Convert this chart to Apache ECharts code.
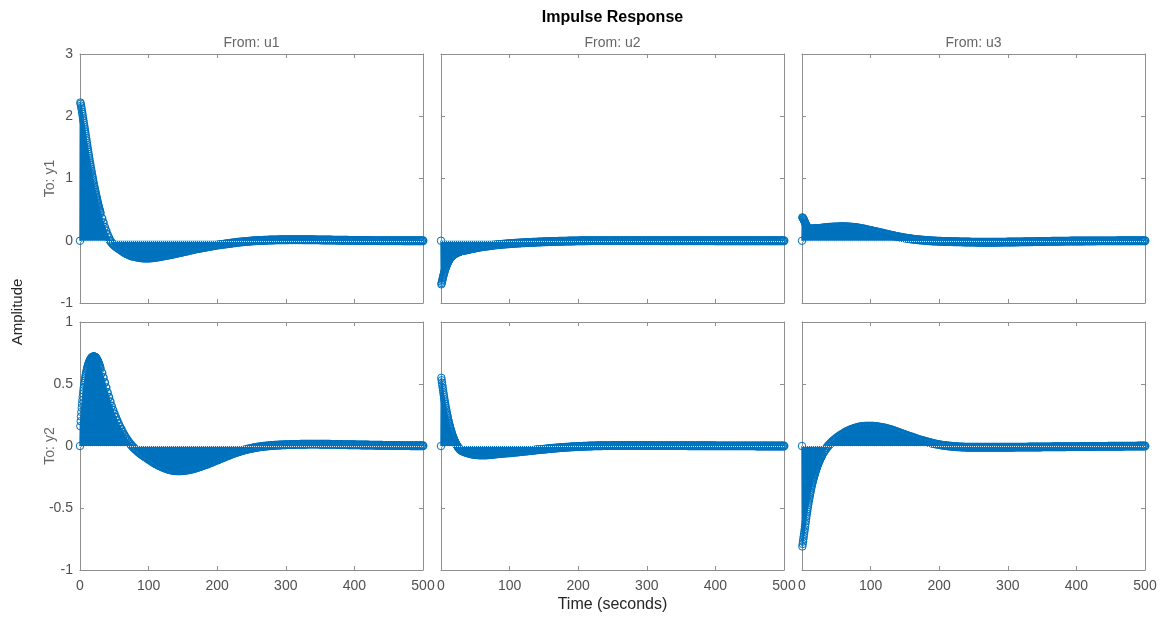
<!DOCTYPE html>
<html><head><meta charset="utf-8">
<style>html,body{margin:0;padding:0;background:#fff}#chart{width:1165px;height:617px}</style>
<script src="https://cdn.jsdelivr.net/npm/echarts@6/dist/echarts.min.js"></script>
</head><body><div id="chart"></div>
<script>
// Sampling grid: 0.5 s steps for 0..30 s (61 samples), then 2 s steps for 32..500 s (235 samples)
const FINE_STEP = 0.5, FINE_END = 30, COARSE_STEP = 2, T_END = 500;
const xTicks = [0, 100, 200, 300, 400, 500];
const rowLabels = ['To: y1', 'To: y2'];
const colLabels = ['From: u1', 'From: u2', 'From: u3'];

// To: y1, From: u1
const y1u1 = [
 0, 2.22, 2.20, 2.17, 2.14, 2.11, 2.07, 2.04, 2.00, 1.965,
 1.93, 1.895, 1.86, 1.825, 1.79, 1.755, 1.72, 1.68, 1.645, 1.61,
 1.57, 1.535, 1.50, 1.465, 1.43, 1.395, 1.36, 1.325, 1.29, 1.257,
 1.225, 1.192, 1.16, 1.13, 1.10, 1.07, 1.04, 1.01, 0.98, 0.95,
 0.92, 0.892, 0.865, 0.837, 0.81, 0.785, 0.76, 0.735, 0.71, 0.685,
 0.66, 0.635, 0.61, 0.587, 0.565, 0.542, 0.52, 0.5, 0.48, 0.46,
 0.44,
 0.36, 0.29, 0.22, 0.16,
 0.10, 0.05, 0.00, -0.03, -0.055, -0.075, -0.095, -0.11, -0.125, -0.14,
 -0.155, -0.17, -0.185, -0.20, -0.21, -0.22, -0.23, -0.24, -0.245, -0.25,
 -0.255, -0.26, -0.265, -0.268, -0.272, -0.275, -0.277, -0.278, -0.279, -0.279,
 -0.278, -0.277, -0.275, -0.273, -0.27, -0.267, -0.264, -0.26, -0.256, -0.252,
 -0.248, -0.244, -0.24, -0.236, -0.232, -0.228, -0.224, -0.22, -0.215, -0.21,
 -0.205, -0.2, -0.195, -0.19, -0.185, -0.18, -0.175, -0.17, -0.165, -0.16,
 -0.155, -0.15, -0.145, -0.14, -0.135, -0.13, -0.126, -0.122, -0.118, -0.114,
 -0.11, -0.106, -0.102, -0.098, -0.094, -0.09, -0.086, -0.082, -0.078, -0.074,
 -0.07, -0.067, -0.064, -0.061, -0.058, -0.055, -0.052, -0.049, -0.046, -0.043,
 -0.04, -0.037, -0.034, -0.031, -0.028, -0.025, -0.022, -0.02, -0.018, -0.016,
 -0.014, -0.012, -0.01, -0.008, -0.006, -0.004, -0.002, 0, 0.001, 0.002,
 0.003, 0.004, 0.005, 0.006, 0.007, 0.008, 0.009, 0.01, 0.011, 0.012,
 0.012, 0.013, 0.013, 0.014, 0.014, 0.015, 0.015, 0.015, 0.016, 0.016,
 0.016, 0.016, 0.017, 0.017, 0.017, 0.017, 0.017, 0.017, 0.017, 0.017,
 0.017, 0.017, 0.017, 0.016, 0.016, 0.016, 0.016, 0.016, 0.015, 0.015,
 0.015, 0.015, 0.014, 0.014, 0.014, 0.013, 0.013, 0.013, 0.012, 0.012,
 0.012, 0.011, 0.011, 0.011, 0.010, 0.010, 0.010, 0.009, 0.009, 0.009,
 0.008, 0.008, 0.008, 0.007, 0.007, 0.007, 0.006, 0.006, 0.006, 0.006,
 0.005, 0.005, 0.005, 0.005, 0.004, 0.004, 0.004, 0.004, 0.003, 0.003,
 0.003, 0.003, 0.003, 0.002, 0.002, 0.002, 0.002, 0.002, 0.002, 0.001,
 0.001, 0.001, 0.001, 0.001, 0.001, 0.001, 0.001, 0.001, 0.001, 0.001,
 0.001, 0.001, 0.001, 0.001, 0.001, 0, 0, 0, 0, 0,
 0, 0, 0, 0, 0, 0, 0, 0, 0, 0,
 0
];

// To: y1, From: u2
const y1u2 = [
 0, -0.70, -0.68, -0.655, -0.63, -0.606, -0.583, -0.561, -0.54, -0.52,
 -0.50, -0.481, -0.463, -0.446, -0.43, -0.414, -0.40, -0.386, -0.373, -0.36,
 -0.348, -0.337, -0.326, -0.316, -0.306, -0.297, -0.289, -0.281, -0.273, -0.266,
 -0.26, -0.254, -0.248, -0.243, -0.238, -0.233, -0.229, -0.225, -0.221, -0.217,
 -0.214, -0.21, -0.207, -0.204, -0.201, -0.198, -0.195, -0.192, -0.19, -0.187,
 -0.185, -0.183, -0.181, -0.179, -0.177, -0.175, -0.173, -0.171, -0.169, -0.167,
 -0.165,
 -0.16, -0.155, -0.15, -0.146,
 -0.142, -0.136, -0.131, -0.126, -0.121, -0.116, -0.112, -0.108, -0.104, -0.1,
 -0.096, -0.093, -0.09, -0.087, -0.084, -0.081, -0.078, -0.075, -0.072, -0.07,
 -0.067, -0.065, -0.063, -0.061, -0.059, -0.057, -0.055, -0.053, -0.051, -0.049,
 -0.047, -0.045, -0.044, -0.042, -0.041, -0.039, -0.038, -0.036, -0.035, -0.034,
 -0.032, -0.031, -0.03, -0.029, -0.028, -0.027, -0.026, -0.025, -0.024, -0.023,
 -0.022, -0.021, -0.02, -0.019, -0.018, -0.017, -0.016, -0.015, -0.015, -0.014,
 -0.013, -0.012, -0.012, -0.011, -0.01, -0.01, -0.009, -0.008, -0.008, -0.007,
 -0.007, -0.006, -0.006, -0.005, -0.005, -0.004, -0.004, -0.003, -0.003, -0.002,
 -0.002, -0.001, -0.001, 0, 0, 0, 0.001, 0.001, 0.001, 0.001,
 0.002, 0.002, 0.002, 0.002, 0.002, 0.002, 0.002, 0.002, 0.002, 0.002,
 0.002, 0.002, 0.002, 0.002, 0.002, 0.002, 0.002, 0.002, 0.002, 0.002,
 0.002, 0.002, 0.002, 0.002, 0.002, 0.002, 0.002, 0.002, 0.002, 0.002,
 0.002, 0.002, 0.002, 0.002, 0.002, 0.002, 0.002, 0.002, 0.002, 0.002,
 0.002, 0.002, 0.002, 0.002, 0.002, 0.002, 0.002, 0.002, 0.002, 0.002,
 0.001, 0.001, 0.001, 0.001, 0.001, 0.001, 0.001, 0.001, 0.001, 0.001,
 0.001, 0.001, 0.001, 0.001, 0.001, 0.001, 0.001, 0.001, 0.001, 0.001,
 0.001, 0.001, 0.001, 0.001, 0.001, 0.001, 0.001, 0.001, 0.001, 0.001,
 0.001, 0.001, 0.001, 0.001, 0.001, 0.001, 0.001, 0.001, 0.001, 0.001,
 0, 0, 0, 0, 0, 0, 0, 0, 0, 0,
 0, 0, 0, 0, 0, 0, 0, 0, 0, 0,
 0, 0, 0, 0, 0, 0, 0, 0, 0, 0,
 0, 0, 0, 0, 0, 0, 0, 0, 0, 0,
 0, 0, 0, 0, 0, 0, 0, 0, 0, 0,
 0
];

// To: y1, From: u3
const y1u3 = [
 0, 0.375, 0.37, 0.362, 0.352, 0.341, 0.329, 0.316, 0.303, 0.29,
 0.277, 0.265, 0.254, 0.244, 0.235, 0.227, 0.22, 0.214, 0.209, 0.205,
 0.201, 0.198, 0.196, 0.194, 0.193, 0.192, 0.192, 0.191, 0.191, 0.191,
 0.191, 0.192, 0.192, 0.192, 0.193, 0.193, 0.194, 0.194, 0.195, 0.195,
 0.196, 0.196, 0.197, 0.197, 0.198, 0.198, 0.199, 0.199, 0.2, 0.2,
 0.201, 0.201, 0.202, 0.202, 0.203, 0.203, 0.204, 0.204, 0.205, 0.205,
 0.206,
 0.208, 0.21, 0.212, 0.214,
 0.216, 0.218, 0.219, 0.22, 0.221, 0.222, 0.223, 0.224, 0.224, 0.225,
 0.225, 0.225, 0.224, 0.223, 0.222, 0.22, 0.218, 0.216, 0.214, 0.212,
 0.21, 0.207, 0.203, 0.199, 0.195, 0.19, 0.185, 0.18, 0.175, 0.17,
 0.165, 0.16, 0.155, 0.15, 0.145, 0.14, 0.135, 0.13, 0.125, 0.12,
 0.115, 0.11, 0.105, 0.1, 0.095, 0.09, 0.085, 0.08, 0.075, 0.07,
 0.065, 0.061, 0.057, 0.053, 0.049, 0.045, 0.041, 0.038, 0.035, 0.031,
 0.028, 0.025, 0.022, 0.02, 0.017, 0.015, 0.013, 0.011, 0.009, 0.007,
 0.005, 0.003, 0.002, 0, -0.001, -0.003, -0.004, -0.005, -0.006, -0.007,
 -0.008, -0.009, -0.01, -0.01, -0.011, -0.012, -0.012, -0.013, -0.014, -0.014,
 -0.015, -0.016, -0.016, -0.017, -0.017, -0.018, -0.018, -0.019, -0.019, -0.02,
 -0.02, -0.021, -0.021, -0.022, -0.022, -0.022, -0.023, -0.023, -0.023, -0.024,
 -0.024, -0.024, -0.024, -0.024, -0.024, -0.024, -0.024, -0.024, -0.024, -0.024,
 -0.024, -0.024, -0.023, -0.023, -0.023, -0.023, -0.022, -0.022, -0.022, -0.022,
 -0.021, -0.021, -0.021, -0.02, -0.02, -0.02, -0.019, -0.019, -0.019, -0.018,
 -0.018, -0.018, -0.017, -0.017, -0.016, -0.016, -0.016, -0.015, -0.015, -0.014,
 -0.014, -0.013, -0.013, -0.013, -0.012, -0.012, -0.011, -0.011, -0.011, -0.01,
 -0.01, -0.01, -0.009, -0.009, -0.009, -0.008, -0.008, -0.008, -0.007, -0.007,
 -0.007, -0.007, -0.006, -0.006, -0.006, -0.006, -0.005, -0.005, -0.005, -0.005,
 -0.005, -0.004, -0.004, -0.004, -0.004, -0.004, -0.003, -0.003, -0.003, -0.003,
 -0.003, -0.003, -0.003, -0.003, -0.003, -0.002, -0.002, -0.002, -0.002, -0.002,
 -0.002, -0.002, -0.002, -0.002, -0.002, -0.002, -0.002, -0.002, -0.002, -0.002,
 -0.001, -0.001, -0.001, -0.001, -0.001, -0.001, -0.001, -0.001, -0.001, -0.001,
 -0.001, -0.001, -0.001, -0.001, -0.001, 0, 0, 0, 0, 0,
 0
];

// To: y2, From: u1
const y2u1 = [
 0, 0.16, 0.2, 0.238, 0.274, 0.308, 0.34, 0.37, 0.398, 0.424,
 0.448, 0.47, 0.491, 0.51, 0.528, 0.545, 0.561, 0.576, 0.59, 0.603,
 0.615, 0.626, 0.637, 0.647, 0.656, 0.664, 0.672, 0.679, 0.686, 0.692,
 0.697, 0.702, 0.706, 0.71, 0.713, 0.716, 0.718, 0.72, 0.721, 0.722,
 0.722, 0.722, 0.721, 0.72, 0.718, 0.716, 0.713, 0.71, 0.706, 0.702,
 0.697, 0.692, 0.686, 0.68, 0.673, 0.666, 0.658, 0.65, 0.641, 0.632,
 0.622,
 0.59, 0.552, 0.512, 0.471,
 0.431, 0.393, 0.357, 0.322, 0.29, 0.26, 0.232, 0.206, 0.181, 0.157,
 0.135, 0.113, 0.093, 0.074, 0.057, 0.041, 0.026, 0.012, -0.001, -0.013,
 -0.024, -0.034, -0.044, -0.054, -0.062, -0.07, -0.078, -0.085, -0.092, -0.099,
 -0.107, -0.114, -0.122, -0.129, -0.136, -0.143, -0.149, -0.155, -0.16, -0.165,
 -0.17, -0.175, -0.179, -0.183, -0.187, -0.19, -0.193, -0.195, -0.197, -0.198,
 -0.199, -0.2, -0.2, -0.2, -0.199, -0.198, -0.197, -0.196, -0.194, -0.192,
 -0.19, -0.188, -0.185, -0.182, -0.179, -0.176, -0.172, -0.168, -0.165, -0.161,
 -0.157, -0.153, -0.149, -0.145, -0.14, -0.136, -0.131, -0.127, -0.122, -0.118,
 -0.113, -0.109, -0.104, -0.1, -0.095, -0.091, -0.086, -0.082, -0.077, -0.073,
 -0.068, -0.064, -0.06, -0.056, -0.052, -0.049, -0.045, -0.042, -0.038, -0.035,
 -0.032, -0.029, -0.026, -0.024, -0.021, -0.019, -0.016, -0.014, -0.012, -0.01,
 -0.008, -0.007, -0.005, -0.004, -0.002, -0.001, 0, 0.001, 0.002, 0.003,
 0.004, 0.005, 0.006, 0.006, 0.007, 0.008, 0.008, 0.009, 0.009, 0.01,
 0.01, 0.011, 0.011, 0.011, 0.012, 0.012, 0.012, 0.013, 0.013, 0.013,
 0.013, 0.014, 0.014, 0.014, 0.014, 0.014, 0.015, 0.015, 0.015, 0.015,
 0.015, 0.015, 0.015, 0.015, 0.015, 0.014, 0.014, 0.014, 0.014, 0.014,
 0.014, 0.014, 0.014, 0.013, 0.013, 0.013, 0.013, 0.012, 0.012, 0.012,
 0.012, 0.011, 0.011, 0.011, 0.011, 0.01, 0.01, 0.01, 0.01, 0.01,
 0.01, 0.009, 0.009, 0.009, 0.009, 0.008, 0.008, 0.008, 0.008, 0.008,
 0.008, 0.007, 0.007, 0.007, 0.007, 0.006, 0.006, 0.006, 0.006, 0.006,
 0.006, 0.005, 0.005, 0.005, 0.005, 0.005, 0.004, 0.004, 0.004, 0.004,
 0.004, 0.004, 0.004, 0.003, 0.003, 0.003, 0.003, 0.003, 0.003, 0.003,
 0.003, 0.002, 0.002, 0.002, 0.002, 0.002, 0.002, 0.002, 0.002, 0.002,
 0.002
];

// To: y2, From: u2
const y2u2 = [
 0, 0.55, 0.53, 0.51, 0.49, 0.47, 0.45, 0.431, 0.412, 0.394,
 0.376, 0.359, 0.342, 0.326, 0.31, 0.295, 0.28, 0.266, 0.252, 0.239,
 0.226, 0.213, 0.201, 0.189, 0.177, 0.166, 0.155, 0.145, 0.135, 0.125,
 0.116, 0.107, 0.098, 0.09, 0.082, 0.074, 0.067, 0.06, 0.053, 0.046,
 0.04, 0.034, 0.028, 0.022, 0.017, 0.012, 0.007, 0.002, -0.002, -0.006,
 -0.01, -0.014, -0.018, -0.021, -0.024, -0.027, -0.03, -0.033, -0.035, -0.037,
 -0.039,
 -0.043, -0.047, -0.051, -0.055,
 -0.058, -0.061, -0.064, -0.066, -0.068, -0.069, -0.07, -0.071, -0.072, -0.072,
 -0.072, -0.072, -0.072, -0.072, -0.071, -0.07, -0.069, -0.068, -0.067, -0.066,
 -0.064, -0.063, -0.062, -0.061, -0.06, -0.059, -0.058, -0.057, -0.056, -0.055,
 -0.055, -0.054, -0.052, -0.051, -0.05, -0.049, -0.048, -0.047, -0.045, -0.044,
 -0.043, -0.042, -0.041, -0.04, -0.038, -0.037, -0.036, -0.035, -0.034, -0.032,
 -0.031, -0.03, -0.029, -0.028, -0.027, -0.026, -0.025, -0.024, -0.022, -0.021,
 -0.02, -0.019, -0.018, -0.017, -0.016, -0.015, -0.014, -0.013, -0.012, -0.012,
 -0.011, -0.01, -0.009, -0.009, -0.008, -0.007, -0.006, -0.006, -0.005, -0.005,
 -0.004, -0.004, -0.003, -0.003, -0.002, -0.002, -0.001, -0.001, 0, 0,
 0, 0.001, 0.001, 0.001, 0.002, 0.002, 0.002, 0.002, 0.003, 0.003,
 0.003, 0.003, 0.003, 0.003, 0.003, 0.004, 0.004, 0.004, 0.004, 0.004,
 0.004, 0.004, 0.004, 0.004, 0.004, 0.004, 0.004, 0.004, 0.004, 0.004,
 0.004, 0.004, 0.004, 0.004, 0.004, 0.004, 0.004, 0.004, 0.004, 0.004,
 0.004, 0.004, 0.004, 0.004, 0.004, 0.003, 0.003, 0.003, 0.003, 0.003,
 0.003, 0.003, 0.003, 0.003, 0.003, 0.003, 0.003, 0.003, 0.003, 0.003,
 0.003, 0.003, 0.003, 0.003, 0.003, 0.003, 0.003, 0.003, 0.003, 0.003,
 0.002, 0.002, 0.002, 0.002, 0.002, 0.002, 0.002, 0.002, 0.002, 0.002,
 0.002, 0.002, 0.002, 0.002, 0.002, 0.002, 0.002, 0.002, 0.002, 0.002,
 0.001, 0.001, 0.001, 0.001, 0.001, 0.001, 0.001, 0.001, 0.001, 0.001,
 0.001, 0.001, 0.001, 0.001, 0.001, 0.001, 0.001, 0.001, 0.001, 0.001,
 0.001, 0.001, 0.001, 0.001, 0.001, 0.001, 0.001, 0.001, 0.001, 0.001,
 0, 0, 0, 0, 0, 0, 0, 0, 0, 0,
 0, 0, 0, 0, 0, 0, 0, 0, 0, 0,
 0
];

// To: y2, From: u3
const y2u3 = [
 0, -0.81, -0.79, -0.77, -0.75, -0.73, -0.71, -0.69, -0.67, -0.648,
 -0.627, -0.606, -0.585, -0.566, -0.547, -0.528, -0.51, -0.492, -0.474, -0.457,
 -0.44, -0.425, -0.41, -0.395, -0.38, -0.366, -0.352, -0.338, -0.325, -0.313,
 -0.301, -0.289, -0.278, -0.268, -0.257, -0.247, -0.237, -0.228, -0.218, -0.209,
 -0.2, -0.192, -0.184, -0.175, -0.167, -0.16, -0.152, -0.145, -0.138, -0.131,
 -0.125, -0.118, -0.112, -0.106, -0.1, -0.095, -0.089, -0.084, -0.079, -0.073,
 -0.068,
 -0.048, -0.03, -0.014, 0.0,
 0.012, 0.024, 0.035, 0.045, 0.054, 0.063, 0.071, 0.079, 0.087, 0.094,
 0.1, 0.107, 0.113, 0.119, 0.124, 0.129, 0.134, 0.138, 0.142, 0.145,
 0.148, 0.151, 0.153, 0.155, 0.157, 0.158, 0.159, 0.16, 0.16, 0.16,
 0.16, 0.16, 0.159, 0.158, 0.157, 0.156, 0.154, 0.152, 0.15, 0.148,
 0.146, 0.143, 0.14, 0.137, 0.134, 0.131, 0.128, 0.124, 0.12, 0.116,
 0.112, 0.108, 0.104, 0.1, 0.096, 0.092, 0.088, 0.084, 0.08, 0.076,
 0.072, 0.068, 0.064, 0.06, 0.056, 0.052, 0.049, 0.046, 0.043, 0.04,
 0.037, 0.034, 0.031, 0.028, 0.025, 0.022, 0.019, 0.017, 0.015, 0.013,
 0.011, 0.009, 0.007, 0.005, 0.004, 0.003, 0.001, 0, -0.001, -0.002,
 -0.003, -0.004, -0.005, -0.006, -0.007, -0.007, -0.008, -0.008, -0.009, -0.009,
 -0.01, -0.01, -0.01, -0.01, -0.01, -0.01, -0.01, -0.01, -0.01, -0.01,
 -0.01, -0.01, -0.01, -0.01, -0.01, -0.01, -0.01, -0.01, -0.01, -0.01,
 -0.01, -0.01, -0.01, -0.01, -0.01, -0.01, -0.01, -0.01, -0.01, -0.01,
 -0.01, -0.01, -0.01, -0.01, -0.01, -0.009, -0.009, -0.009, -0.009, -0.009,
 -0.009, -0.009, -0.009, -0.009, -0.009, -0.008, -0.008, -0.008, -0.008, -0.008,
 -0.008, -0.008, -0.008, -0.008, -0.008, -0.007, -0.007, -0.007, -0.007, -0.007,
 -0.007, -0.007, -0.007, -0.006, -0.006, -0.006, -0.006, -0.006, -0.006, -0.006,
 -0.006, -0.006, -0.006, -0.005, -0.005, -0.005, -0.005, -0.005, -0.005, -0.005,
 -0.005, -0.005, -0.005, -0.004, -0.004, -0.004, -0.004, -0.004, -0.004, -0.004,
 -0.004, -0.004, -0.004, -0.003, -0.003, -0.003, -0.003, -0.003, -0.003, -0.003,
 -0.003, -0.003, -0.003, -0.002, -0.002, -0.002, -0.002, -0.002, -0.002, -0.002,
 -0.002, -0.002, -0.002, -0.002, -0.002, -0.001, -0.001, -0.001, -0.001, -0.001,
 -0.001, -0.001, -0.001, -0.001, -0.001, 0, 0, 0, 0, 0,
 0
];

const panels = [y1u1, y1u2, y1u3, y2u1, y2u2, y2u3];
const yTop = { min: -1, max: 3, interval: 1 };
const yBottom = { min: -1, max: 1, interval: 0.5 };

// time grid of the samples
const time = [];
for (let k = 0; k * FINE_STEP <= FINE_END; k++) time.push(k * FINE_STEP);
for (let k = 1; FINE_END + k * COARSE_STEP <= T_END; k++) time.push(FINE_END + k * COARSE_STEP);

const FONT = '"Liberation Sans", Arial, Helvetica, sans-serif';
const AXIS_COLOR = '#8f8f8f';
const TICK_TEXT = '#505050';
const BLUE = '#0072BD';

const colLeft = [80, 441, 802];
const rowTop = [54, 322];
const rowH = [249, 248];
const W = 343;

const grids = [], xAxes = [], yAxes = [], series = [];
for (let i = 0; i < 6; i++) {
  const r = Math.floor(i / 3), c = i % 3;
  grids.push({ left: colLeft[c], top: rowTop[r], width: W, height: rowH[r], containLabel: false });
}
function xAx(i, pos) {
  const r = Math.floor(i / 3);
  return {
    gridIndex: i, type: 'value', position: pos, min: xTicks[0], max: xTicks[xTicks.length - 1], interval: 100,
    axisLine: { show: true, onZero: false, lineStyle: { color: AXIS_COLOR, width: 1 } },
    axisTick: { show: true, inside: true, length: 4, lineStyle: { color: AXIS_COLOR } },
    axisLabel: { show: pos === 'bottom' && r === 1, margin: 9, color: TICK_TEXT, fontSize: 14, fontFamily: FONT, showMinLabel: true, showMaxLabel: true },
    splitLine: { show: false }
  };
}
function yAx(i, pos) {
  const r = Math.floor(i / 3), c = i % 3;
  const rng = r === 0 ? yTop : yBottom;
  return {
    gridIndex: i, type: 'value', position: pos, min: rng.min, max: rng.max, interval: rng.interval,
    axisLine: { show: true, onZero: false, lineStyle: { color: AXIS_COLOR, width: 1 } },
    axisTick: { show: true, inside: true, length: 4, lineStyle: { color: AXIS_COLOR } },
    axisLabel: { show: pos === 'left' && c === 0, margin: 7, color: TICK_TEXT, fontSize: 14, fontFamily: FONT, showMinLabel: true, showMaxLabel: true },
    splitLine: { show: false }
  };
}
for (let i = 0; i < 6; i++) { xAxes.push(xAx(i, 'bottom')); yAxes.push(yAx(i, 'left')); }
for (let i = 0; i < 6; i++) { xAxes.push(xAx(i, 'top')); yAxes.push(yAx(i, 'right')); }

panels.forEach((vals, i) => {
  const pts = vals.map((v, k) => [time[k], v]);
  // stems (filled to zero)
  series.push({
    type: 'line', xAxisIndex: i, yAxisIndex: i, data: pts,
    showSymbol: false, symbol: 'none',
    lineStyle: { width: 0, opacity: 0 },
    areaStyle: { color: BLUE, opacity: 1, origin: 0 },
    emphasis: { disabled: true }, silent: true, animation: false, z: 2
  });
  // dotted zero baseline
  series.push({
    type: 'line', xAxisIndex: i, yAxisIndex: i, data: pts,
    showSymbol: false, symbol: 'none', lineStyle: { width: 0, opacity: 0 },
    markLine: {
      silent: true, symbol: ['none', 'none'], label: { show: false }, animation: false,
      lineStyle: { type: 'dotted', color: '#dbe6f1', width: 1 },
      data: [{ yAxis: 0 }]
    },
    emphasis: { disabled: true }, silent: true, animation: false, z: 3
  });
  // stem-end circles: thin rings where samples are dense, slightly heavier where sparser
  series.push({
    type: 'line', xAxisIndex: i, yAxisIndex: i,
    data: pts.map(p => ({ value: p, itemStyle: { borderWidth: p[0] <= FINE_END ? 1 : 1.4 } })),
    symbol: 'circle', symbolSize: 7.5, showSymbol: true, showAllSymbol: true,
    itemStyle: { color: 'rgba(0,0,0,0)', borderColor: BLUE, borderWidth: 1.4 },
    lineStyle: { color: BLUE, width: 1.5 },
    emphasis: { disabled: true }, silent: true, animation: false, z: 4
  });
});

const graphic = [
  { type: 'text', x: 612.5, y: 18, style: { text: 'Impulse Response', font: 'bold 16px ' + FONT, fill: '#000', textAlign: 'center', textVerticalAlign: 'middle' } },
  { type: 'text', x: 18, y: 312, rotation: Math.PI / 2, style: { text: 'Amplitude', font: '15px ' + FONT, fill: '#262626', textAlign: 'center', textVerticalAlign: 'middle' } },
  { type: 'text', x: 612.5, y: 605, style: { text: 'Time (seconds)', font: '16px ' + FONT, fill: '#262626', textAlign: 'center', textVerticalAlign: 'middle' } }
];
colLabels.forEach((t, c) => graphic.push({ type: 'text', x: colLeft[c] + W / 2, y: 43, style: { text: t, font: '14px ' + FONT, fill: '#666', textAlign: 'center', textVerticalAlign: 'middle' } }));
rowLabels.forEach((t, r) => graphic.push({ type: 'text', x: 50, y: rowTop[r] + rowH[r] / 2, rotation: Math.PI / 2, style: { text: t, font: '14px ' + FONT, fill: '#666', textAlign: 'center', textVerticalAlign: 'middle' } }));

const chart = echarts.init(document.getElementById('chart'), null, { renderer: 'canvas' });
chart.setOption({
  backgroundColor: '#fff', animation: false,
  grid: grids, xAxis: xAxes, yAxis: yAxes, series: series, graphic: graphic
});
</script></body></html>
